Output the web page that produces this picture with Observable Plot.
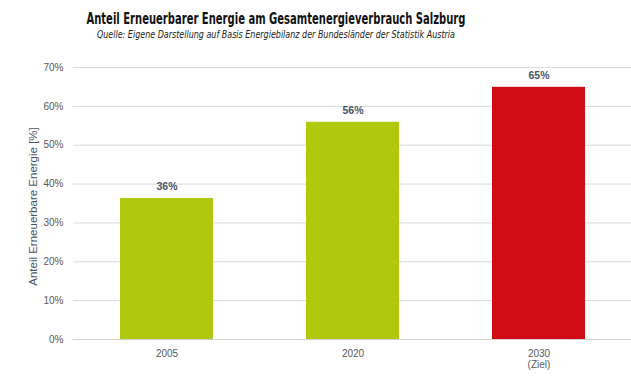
<!DOCTYPE html>
<html>
<head>
<meta charset="utf-8">
<script src="https://cdn.jsdelivr.net/npm/d3@7"></script>
<script src="https://cdn.jsdelivr.net/npm/@observablehq/plot@0.6"></script>
<style>
  html, body { margin: 0; padding: 0; background: #fff; }
  #wrap { width: 631px; height: 379px; position: relative; overflow: hidden; }
  .hdr { position: absolute; left: -200px; width: 952px; text-align: center; }
  .hdr span { display: inline-block; white-space: nowrap; transform-origin: 50% 50%; }
  #title { top: 10px; font-family: "DejaVu Sans", sans-serif; font-weight: bold; font-size: 15px; color: #111; }
  #sub { top: 28px; font-family: "DejaVu Sans", sans-serif; font-style: italic; font-size: 10.5px; color: #222; }
  #chart { position: absolute; left: 0; top: 45px; }
</style>
</head>
<body>
<div id="wrap">
  <div id="title" class="hdr"><span>Anteil Erneuerbarer Energie am Gesamtenergieverbrauch Salzburg</span></div>
  <div id="sub" class="hdr"><span>Quelle: Eigene Darstellung auf Basis Energiebilanz der Bundesländer der Statistik Austria</span></div>
  <div id="chart"></div>
</div>
<script>
const years = ["2005", "2020", "2030"];
const tickLabels = ["2005", "2020", "2030\n(Ziel)"];
const shares = [36.3, 55.9, 64.9];
const labels = ["36%", "56%", "65%"];
const barColors = ["#b0c90e", "#b0c90e", "#d20c14"];
const yTicks = [0, 10, 20, 30, 40, 50, 60, 70];

const data = years.map((y, i) => ({year: y, value: shares[i], label: labels[i], color: barColors[i]}));

const chart = Plot.plot({
  width: 631,
  height: 334,
  marginTop: 22,
  marginBottom: 40,
  marginLeft: 73,
  marginRight: 0,
  style: {fontFamily: "'Liberation Sans', sans-serif", fontSize: "10px", color: "#595959", background: "#fff"},
  x: {domain: years, paddingInner: 0.5, paddingOuter: 0.25, label: null},
  y: {domain: [0, 70], label: null},
  marks: [
    Plot.gridY(yTicks.filter(t => t > 0), {stroke: "#d9d9d9", strokeOpacity: 1}),
    Plot.barY(data, {x: "year", y: "value", fill: "color"}),
    Plot.ruleY([0], {stroke: "#d0d0d0", strokeWidth: 1.2}),
    Plot.text(data, {x: "year", y: "value", text: "label", dy: -12, fontWeight: "bold", fill: "#44546a", fontSize: 10.5}),
    Plot.axisY({ticks: yTicks, tickFormat: d => d + "%", tickSize: 0, tickPadding: 10, label: null}),
    Plot.axisX({tickSize: 0, tickPadding: 9, label: null, lineHeight: 1.15, tickFormat: d => tickLabels[years.indexOf(d)]}),
    Plot.text(["Anteil Erneuerbare Energie [%]"], {frameAnchor: "left", textAnchor: "middle", dx: -40, dy: 3, rotate: -90, fill: "#44546a", fontSize: 11.5, text: d => d})
  ]
});
document.getElementById("chart").appendChild(chart);

// fit header lines to the reference widths
function fit(id, w) {
  const s = document.querySelector("#" + id + " span");
  const cw = s.getBoundingClientRect().width;
  s.style.transform = "scaleX(" + (w / cw) + ")";
}
fit("title", 379);
fit("sub", 358);
</script>
</body>
</html>
